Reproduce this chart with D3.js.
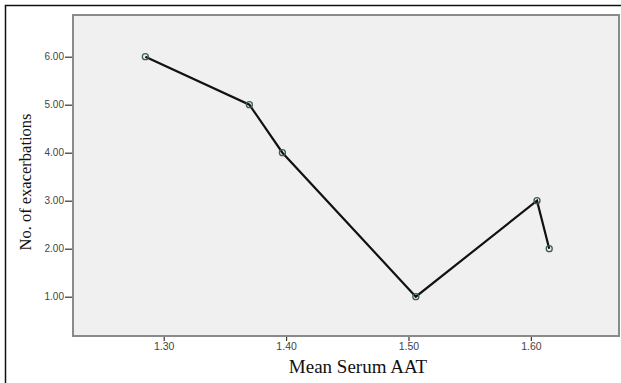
<!DOCTYPE html>
<html><head><meta charset="utf-8">
<script src="https://cdn.jsdelivr.net/npm/d3@7"></script>
<style>body{margin:0;background:#fff}svg{display:block}</style>
</head><body>
<script>
const serumAAT = [1.285, 1.370, 1.397, 1.506, 1.605, 1.615];
const exacerbations = [6, 5, 4, 1, 3, 2];
const xTicks = [1.30, 1.40, 1.50, 1.60];
const yTicks = [1, 2, 3, 4, 5, 6];
const xTitle = "Mean Serum AAT";
const yTitle = "No. of exacerbations";

const W = 621, H = 383;
const plot = {left: 73, top: 15, right: 619, bottom: 336};
const svg = d3.select("body").append("svg").attr("width", W).attr("height", H);

// outer frame
svg.append("path").attr("d", `M5.5,${H} V5.5 H${W}`).attr("fill", "none").attr("stroke", "#111").attr("stroke-width", 1.5);

const x = d3.scaleLinear().domain([1.2259, 1.672]).range([plot.left, plot.right]);
const y = d3.scaleLinear().domain([0, 6]).range([344.7, 56.7]);

svg.append("rect").attr("x", plot.left).attr("y", plot.top)
  .attr("width", plot.right - plot.left).attr("height", plot.bottom - plot.top)
  .attr("fill", "#f0f0f0").attr("stroke", "#8a8a8a").attr("stroke-width", 2);

const yAxis = svg.append("g").attr("transform", `translate(${plot.left - 1},0)`)
  .call(d3.axisLeft(y).tickValues(yTicks).tickFormat(d3.format(".2f")).tickSize(7).tickPadding(1));
yAxis.select(".domain").remove();
yAxis.selectAll("line").attr("stroke", "#333").attr("stroke-width", 1.2);
yAxis.selectAll("text").attr("font-family", "Arial, 'Liberation Sans', sans-serif").attr("font-size", 10).attr("fill", "#444");

const xAxis = svg.append("g").attr("transform", `translate(0,${plot.bottom + 1})`)
  .call(d3.axisBottom(x).tickValues(xTicks).tickFormat(d3.format(".2f")).tickSize(4).tickPadding(2));
xAxis.select(".domain").remove();
xAxis.selectAll("line").attr("stroke", "#333").attr("stroke-width", 1.2);
xAxis.selectAll("text").attr("font-family", "Arial, 'Liberation Sans', sans-serif").attr("font-size", 10.5).attr("fill", "#444");

const data = serumAAT.map((v, i) => ({x: v, y: exacerbations[i]}));
svg.append("path").datum(data)
  .attr("d", d3.line().x(d => x(d.x)).y(d => y(d.y)))
  .attr("fill", "none").attr("stroke", "#111").attr("stroke-width", 2.2);

svg.selectAll("circle.pt").data(data).join("circle").attr("class", "pt")
  .attr("cx", d => x(d.x)).attr("cy", d => y(d.y)).attr("r", 3)
  .attr("fill", "none").attr("stroke", "#3d5a50").attr("stroke-width", 1.3);

svg.append("text").attr("x", 358).attr("y", 373).attr("text-anchor", "middle")
  .attr("font-family", "'Liberation Serif', 'Times New Roman', serif").attr("font-size", 19).attr("fill", "#111")
  .text(xTitle);

svg.append("text").attr("transform", "translate(31,182) rotate(-90)").attr("text-anchor", "middle")
  .attr("font-family", "'Liberation Serif', 'Times New Roman', serif").attr("font-size", 16.5).attr("fill", "#111")
  .text(yTitle);
</script>
</body></html>
